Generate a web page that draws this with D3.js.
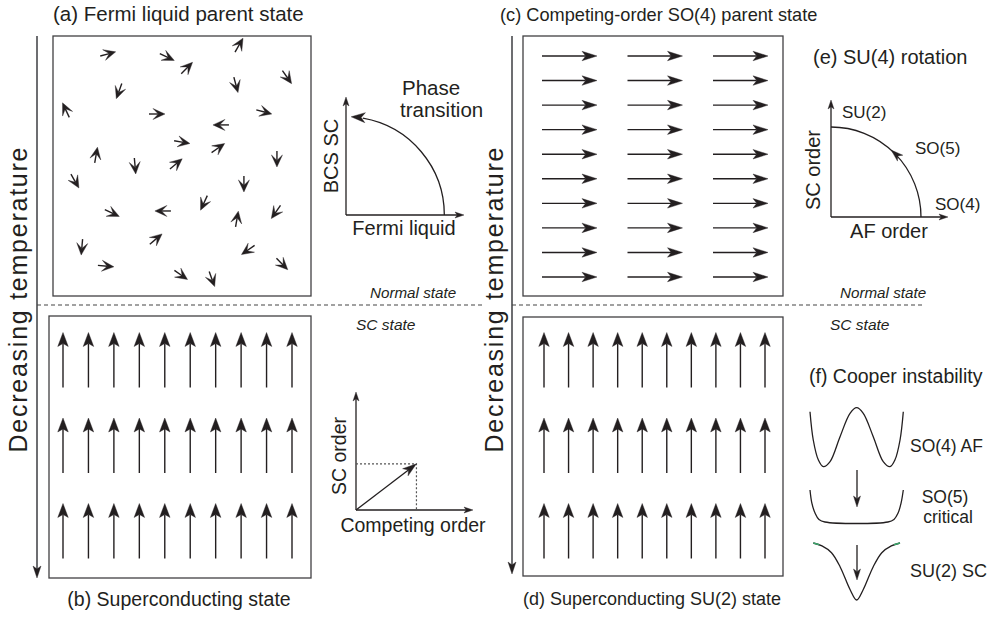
<!DOCTYPE html>
<html><head><meta charset="utf-8">
<script src="https://cdn.jsdelivr.net/npm/d3@7"></script>
<style>body{margin:0;background:#fff}text{font-family:"Liberation Sans",Arial,sans-serif;fill:#231f20}</style>
</head><body><svg id="c" width="988" height="617"></svg>
<script>
// ---------- DATA ----------
const panelTitles = ["(a) Fermi liquid parent state", "(b) Superconducting state", "(c) Competing-order SO(4) parent state", "(d) Superconducting SU(2) state"];
const axisTitle = "Decreasing temperature";
const stateLabels = ["Normal state", "SC state"];
// panel (a): disordered arrows, position in % of the box, direction in degrees (0 = right, 90 = down)
const fermiX = [21.3, 44.2, 72.1, 51.9, 70.9, 90.7, 25.6, 5.0, 40.3, 81.8, 65.1, 50.0, 64.0, 16.7, 31.8, 47.7, 86.8, 8.5, 74.0, 58.5, 22.9, 42.6, 71.3, 86.4, 11.2, 39.9, 75.6, 20.5, 49.6, 61.6, 88.8];
const fermiY = [6.9, 8.1, 3.5, 12.3, 18.8, 15.8, 21.2, 28.5, 30.0, 29.2, 34.2, 40.8, 43.1, 45.8, 50.0, 49.2, 47.3, 55.8, 56.9, 64.2, 68.1, 67.3, 70.4, 67.7, 81.2, 78.1, 82.3, 88.5, 91.9, 93.5, 87.7];
const fermiAngle = [-15, 25, -60, -45, 75, 55, 110, -115, 0, 15, 180, 10, -35, -80, 85, -40, 90, 60, 90, 115, 25, 180, -80, 125, 95, -40, 145, 5, 35, 70, 45];
// panel (c): ordered grid, 10 rows x 3 columns (all pointing right)
const gridCRows = ["1", "2", "3", "4", "5", "6", "7", "8", "9", "10"];
const gridCCols = ["1", "2", "3"];
// panels (b),(d): ordered grid, 3 rows x 10 columns (all pointing up)
const gridSCRows = ["1", "2", "3"];
const gridSCCols = ["1", "2", "3", "4", "5", "6", "7", "8", "9", "10"];
// inset (a)
const insetALabels = {x: "Fermi liquid", y: "BCS SC", note: ["Phase", "transition"]};
const insetARadius = 1.0;
// inset (b)
const insetBLabels = {x: "Competing order", y: "SC order"};
const insetBVector = {competing: 0.62, sc: 0.47};
// inset (e)
const insetETitle = "(e) SU(4) rotation";
const insetELabels = {x: "AF order", y: "SC order"};
const insetEPoints = [{name: "SO(4)", deg: 0}, {name: "SO(5)", deg: 48}, {name: "SU(2)", deg: 90}];
// inset (f): potential curves (x 0..1, energy 0..1)
const insetFTitle = "(f) Cooper instability";
const potAF = [[0,0.92],[0.035,0.45],[0.089,0.12],[0.143,0.005],[0.215,0.09],[0.322,0.505],[0.429,0.895],[0.5,0.99],[0.571,0.895],[0.678,0.505],[0.785,0.09],[0.857,0.005],[0.911,0.12],[0.965,0.45],[1,0.92]];
const potCrit = [[0,1],[0.02,0.59],[0.054,0.28],[0.096,0.08],[0.16,0],[0.836,0],[0.9,0.08],[0.944,0.28],[0.976,0.59],[1,1]];
const potSC = [[0,1],[0.1,0.95],[0.21,0.83],[0.31,0.58],[0.425,0.18],[0.5,0],[0.575,0.18],[0.69,0.58],[0.79,0.83],[0.9,0.95],[1,1]];
const potLabels = [["SO(4) AF"], ["SO(5)", "critical"], ["SU(2) SC"]];

// ---------- DRAWING ----------
const svg = d3.select("#c");
const ink = "#231f20";
const FONT = '"Liberation Sans", Arial, sans-serif';

function head(g, tx, ty, ang, L, W, n) {
  const c = Math.cos(ang), s = Math.sin(ang);
  const pt = (a, b) => [tx + a * c - b * s, ty + a * s + b * c];
  const p = d3.path();
  p.moveTo(...pt(0, 0)); p.lineTo(...pt(-L, -W / 2)); p.lineTo(...pt(-L * n, 0)); p.lineTo(...pt(-L, W / 2)); p.closePath();
  g.append("path").attr("d", p.toString()).attr("fill", ink).attr("stroke", ink).attr("stroke-width", 0.4).attr("stroke-linejoin", "miter");
}
function arrow(g, x1, y1, x2, y2, L, W, n, sw, color) {
  const ang = Math.atan2(y2 - y1, x2 - x1), c = Math.cos(ang), s = Math.sin(ang);
  g.append("line").attr("x1", x1).attr("y1", y1).attr("x2", x2 - c * L * n).attr("y2", y2 - s * L * n)
    .attr("stroke", color || ink).attr("stroke-width", sw);
  head(g, x2, y2, ang, L, W, n);
}
function txt(g, s, x, y, size, opts = {}) {
  const t = g.append("text").attr("x", x).attr("y", y).attr("font-size", size).attr("font-family", FONT).text(s);
  if (opts.anchor) t.attr("text-anchor", opts.anchor);
  if (opts.italic) t.attr("font-style", "italic");
  if (opts.rot) t.attr("transform", `rotate(-90,${x},${y})`);
  if (opts.len) t.attr("textLength", opts.len).attr("lengthAdjust", "spacing");
  return t;
}

// titles
txt(svg, panelTitles[0], 53, 21, 20.5);
txt(svg, panelTitles[2], 500, 21, 18.2);
txt(svg, panelTitles[1], 179, 606, 19.5, {anchor: "middle"});
txt(svg, panelTitles[3], 652, 605, 18, {anchor: "middle"});

// temperature arrows
[[37, 578, 27], [512, 574, 503]].forEach(([x, yb, tx]) => {
  arrow(svg, x, 36, x, yb, 12, 8, 0.75, 2, "#6d6e71");
  txt(svg, axisTitle, tx, 300, 25, {anchor: "middle", rot: true, len: 305});
});

// dashed boundary lines
[[37, 485], [512, 922]].forEach(([a, b]) => {
  svg.append("line").attr("x1", a).attr("x2", b).attr("y1", 305).attr("y2", 305)
    .attr("stroke", "#444").attr("stroke-width", 1.2).attr("stroke-dasharray", "4,3");
});
txt(svg, stateLabels[0], 370, 298, 15.2, {italic: true});
txt(svg, stateLabels[1], 356, 330, 15.5, {italic: true});
txt(svg, stateLabels[0], 840, 298, 15.2, {italic: true});
txt(svg, stateLabels[1], 830, 330, 15.5, {italic: true});

// boxes
const boxes = {a: [53, 36, 258, 260], b: [49, 316, 262, 262], c: [523, 36, 260, 260], d: [523, 317, 260, 259]};
Object.values(boxes).forEach(([x, y, w, h]) => {
  svg.append("rect").attr("x", x).attr("y", y).attr("width", w).attr("height", h)
    .attr("fill", "none").attr("stroke", "#414042").attr("stroke-width", 1.3);
});

// panel (a)
{
  const [bx, by, bw, bh] = boxes.a;
  const xs = d3.scaleLinear([0, 100], [bx, bx + bw]);
  const ys = d3.scaleLinear([0, 100], [by, by + bh]);
  const g = svg.append("g");
  fermiX.forEach((u, i) => {
    const cx = xs(u), cy = ys(fermiY[i]), a = fermiAngle[i] * Math.PI / 180;
    const c = Math.cos(a), s = Math.sin(a), h = 8;
    arrow(g, cx - c * h, cy - s * h, cx + c * h, cy + s * h, 12, 11, 0.55, 1.4);
  });
}
// panel (c)
{
  const xs = d3.scalePoint(gridCCols, [569.5, 740.5]);
  const ys = d3.scalePoint(gridCRows, [56, 277]);
  const g = svg.append("g");
  gridCRows.forEach(r => gridCCols.forEach(c => {
    arrow(g, xs(c) - 27.5, ys(r), xs(c) + 27.5, ys(r), 15, 9.5, 0.75, 1.4);
  }));
}
// panels (b) and (d)
[[63, 292], [544, 765]].forEach(([x0, x1]) => {
  const xs = d3.scalePoint(gridSCCols, [x0, x1]);
  const ys = d3.scalePoint(gridSCRows, [360, 531]);
  const g = svg.append("g");
  gridSCRows.forEach(r => gridSCCols.forEach(c => {
    arrow(g, xs(c), ys(r) + 27.5, xs(c), ys(r) - 27.5, 14, 10.5, 0.78, 1.4);
  }));
});

// axes helper for insets
function insetAxes(xs, ys, xmax, ymax) {
  const g = svg.append("g");
  arrow(g, xs(0), ys(0), xs(xmax), ys(0), 9, 6, 0.75, 1.3);
  arrow(g, xs(0), ys(0), xs(0), ys(ymax), 9, 6, 0.75, 1.3);
  return g;
}

// inset (a)
{
  const xs = d3.scaleLinear([0, 1.2], [346, 464]);
  const ys = d3.scaleLinear([0, 1.2], [215, 97]);
  const g = insetAxes(xs, ys, 1.2, 1.2);
  const r = xs(insetARadius) - xs(0);
  const end = 87 * Math.PI / 180;
  const p = d3.path();
  p.arc(xs(0), ys(0), r, 0, -end + 0.12, true);
  g.append("path").attr("d", p.toString()).attr("fill", "none").attr("stroke", ink).attr("stroke-width", 1.3);
  const tx = xs(0) + r * Math.cos(end), ty = ys(0) - r * Math.sin(end);
  head(g, tx, ty, Math.PI + 0.06, 14, 10, 0.72);
  txt(g, insetALabels.x, 404, 235, 20, {anchor: "middle"});
  txt(g, insetALabels.y, 338, 156, 20, {anchor: "middle", rot: true});
  txt(g, insetALabels.note[0], 402, 95, 20.5);
  txt(g, insetALabels.note[1], 400, 117, 20.5);
}
// inset (b)
{
  const xs = d3.scaleLinear([0, 1.2], [356, 473]);
  const ys = d3.scaleLinear([0, 1.2], [510, 392]);
  const g = insetAxes(xs, ys, 1.2, 1.2);
  const vx = xs(insetBVector.competing), vy = ys(insetBVector.sc);
  g.append("path").attr("d", `M${xs(0)},${vy}H${vx}V${ys(0)}`).attr("fill", "none")
    .attr("stroke", "#555").attr("stroke-width", 1.2).attr("stroke-dasharray", "2,2");
  arrow(g, xs(0), ys(0), vx, vy, 14, 9, 0.72, 1.3);
  txt(g, insetBLabels.x, 413, 532, 19.5, {anchor: "middle"});
  txt(g, insetBLabels.y, 346, 456, 19.5, {anchor: "middle", rot: true});
}
// inset (e)
{
  const xs = d3.scaleLinear([0, 1.3], [831, 948]);
  const ys = d3.scaleLinear([0, 1.3], [217, 100]);
  const g = insetAxes(xs, ys, 1.3, 1.3);
  const r = xs(1) - xs(0);
  const p = d3.path();
  p.arc(xs(0), ys(0), r, 0, -Math.PI / 2, true);
  g.append("path").attr("d", p.toString()).attr("fill", "none").attr("stroke", ink).attr("stroke-width", 1.3);
  const mid = insetEPoints[1].deg * Math.PI / 180;
  head(g, xs(0) + r * Math.cos(mid), ys(0) - r * Math.sin(mid), -mid - Math.PI / 2, 12, 8, 0.72);
  txt(g, insetETitle, 813, 64, 20);
  txt(g, insetELabels.x, 889, 238, 20, {anchor: "middle"});
  txt(g, insetELabels.y, 820, 170, 20, {anchor: "middle", rot: true});
  txt(g, insetEPoints[0].name, 935, 210, 17);
  txt(g, insetEPoints[1].name, 915, 154, 17);
  txt(g, insetEPoints[2].name, 842, 118, 17);
}
// inset (f)
{
  const g = svg.append("g");
  txt(g, insetFTitle, 809, 383, 19.5);
  const specs = [
    {data: potAF, x: [810, 903.3], y: [467, 407]},
    {data: potCrit, x: [810, 903.3], y: [522, 490]},
    {data: potSC, x: [813.3, 900], y: [600, 543]}
  ];
  specs.forEach((s, i) => {
    const xs = d3.scaleLinear([0, 1], s.x), ys = d3.scaleLinear([0, 1], s.y);
    const line = d3.line(d => xs(d[0]), d => ys(d[1])).curve(d3.curveCatmullRom.alpha(0.5));
    g.append("path").attr("d", line(s.data)).attr("fill", "none").attr("stroke", ink).attr("stroke-width", 1.3);
    if (i === 2) {
      const tip = d3.line(d => xs(d[0]), d => ys(d[1]));
      [[s.data[0], [0.07, 0.97]], [[0.93, 0.97], s.data[s.data.length - 1]]].forEach(seg => {
        g.append("path").attr("d", tip(seg)).attr("stroke", "#3aa56a").attr("stroke-width", 1.5).attr("fill", "none");
      });
    }
  });
  arrow(g, 857, 470, 857, 507, 11, 7, 0.75, 1.3);
  arrow(g, 857, 545, 857, 580, 11, 7, 0.75, 1.3);
  txt(g, potLabels[0][0], 910, 452, 17.5);
  txt(g, potLabels[1][0], 945, 503, 17.5, {anchor: "middle"});
  txt(g, potLabels[1][1], 948, 523, 17.5, {anchor: "middle"});
  txt(g, potLabels[2][0], 910, 577, 18);
}
</script></body></html>
